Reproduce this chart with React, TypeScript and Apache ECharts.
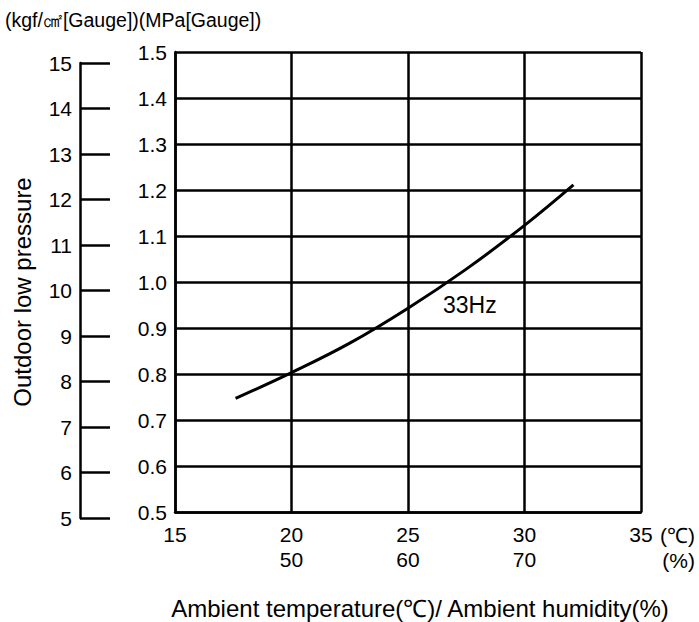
import React, { useEffect, useRef } from 'react';
import * as echarts from 'echarts';

const FONT = '"Liberation Sans", Arial, sans-serif';

// Temperature ticks (°C) and matching humidity labels (%)
const tempTicks = [15, 20, 25, 30, 35];
const humidityLabels = ['', '50', '60', '70', ''];

// 33Hz curve: ambient temperature (°C) vs outdoor low pressure (MPa)
const temps = [17.6, 20, 22.5, 25, 27.5, 30, 32.1];
const pressures = [0.747, 0.803, 0.867, 0.943, 1.028, 1.123, 1.211];

const curveName = '33Hz';
const titleText = '(kgf/㎠[Gauge])(MPa[Gauge])';
const yName = 'Outdoor low pressure';
const xName = 'Ambient temperature(℃)/ Ambient humidity(%)';

const LINE = { color: '#000', width: 2.5 };

export default function App() {
  const ref = useRef<HTMLDivElement>(null);
  useEffect(() => {
    const chart = echarts.init(ref.current!, null, { renderer: 'svg' });
    const option: any = {
      animation: false,
      backgroundColor: '#fff',
      textStyle: { fontFamily: FONT, color: '#000' },
      grid: [
        { left: 175, right: 58, top: 52, bottom: 110 },
        { left: 80, width: 30, top: 63, bottom: 104 },
      ],
      xAxis: [
        {
          type: 'value',
          gridIndex: 0,
          min: 15,
          max: 35,
          interval: 5,
          axisLine: { show: true, onZero: false, lineStyle: LINE },
          axisTick: { show: false },
          splitLine: { show: true, lineStyle: LINE },
          axisLabel: {
            color: '#000',
            fontFamily: FONT,
            fontSize: 21,
            lineHeight: 25,
            margin: 10,
            formatter: (v: number) => {
              const i = tempTicks.indexOf(v);
              const h = i >= 0 ? humidityLabels[i] : '';
              return h ? `${v}\n${h}` : `${v}`;
            },
          },
        },
        { type: 'value', gridIndex: 1, show: false, min: 0, max: 1 },
      ],
      yAxis: [
        {
          type: 'value',
          gridIndex: 0,
          min: 0.5,
          max: 1.5,
          interval: 0.1,
          axisLine: { show: true, onZero: false, lineStyle: LINE },
          axisTick: { show: false },
          splitLine: { show: true, lineStyle: LINE },
          axisLabel: {
            color: '#000',
            fontFamily: FONT,
            fontSize: 21,
            margin: 8,
            formatter: (v: number) => v.toFixed(1),
          },
        },
        {
          type: 'value',
          gridIndex: 1,
          min: 5,
          max: 15,
          interval: 1,
          axisLine: { show: true, onZero: false, lineStyle: LINE },
          axisTick: { show: false },
          splitLine: { show: true, lineStyle: LINE },
          axisLabel: {
            color: '#000',
            fontFamily: FONT,
            fontSize: 21,
            margin: 8,
          },
        },
      ],
      series: [
        {
          name: curveName,
          type: 'line',
          xAxisIndex: 0,
          yAxisIndex: 0,
          smooth: 0.4,
          showSymbol: false,
          lineStyle: { color: '#000', width: 3 },
          data: temps.map((t, i) => [t, pressures[i]]),
        },
      ],
      graphic: [
        {
          type: 'text',
          left: 5,
          top: 10,
          style: { text: titleText, font: `19.5px ${FONT}`, fill: '#000' },
        },
        {
          type: 'text',
          x: 22,
          y: 292,
          rotation: Math.PI / 2,
          style: {
            text: yName,
            font: `24px ${FONT}`,
            fill: '#000',
            align: 'center',
            verticalAlign: 'middle',
          },
        },
        {
          type: 'text',
          x: 420,
          y: 608,
          style: {
            text: xName,
            font: `24px ${FONT}`,
            fill: '#000',
            align: 'center',
            verticalAlign: 'middle',
          },
        },
        {
          type: 'text',
          x: 695,
          y: 535,
          style: { text: '(℃)', font: `21px ${FONT}`, fill: '#000', align: 'right', verticalAlign: 'middle' },
        },
        {
          type: 'text',
          x: 695,
          y: 560,
          style: { text: '(%)', font: `21px ${FONT}`, fill: '#000', align: 'right', verticalAlign: 'middle' },
        },
        {
          type: 'text',
          x: 443,
          y: 305,
          style: { text: curveName, font: `23px ${FONT}`, fill: '#000', align: 'left', verticalAlign: 'middle' },
        },
      ],
    };
    chart.setOption(option);
    return () => chart.dispose();
  }, []);
  return (
    <div
      ref={ref}
      style={{ position: 'fixed', left: 0, top: 0, width: 699, height: 622 }}
    />
  );
}
